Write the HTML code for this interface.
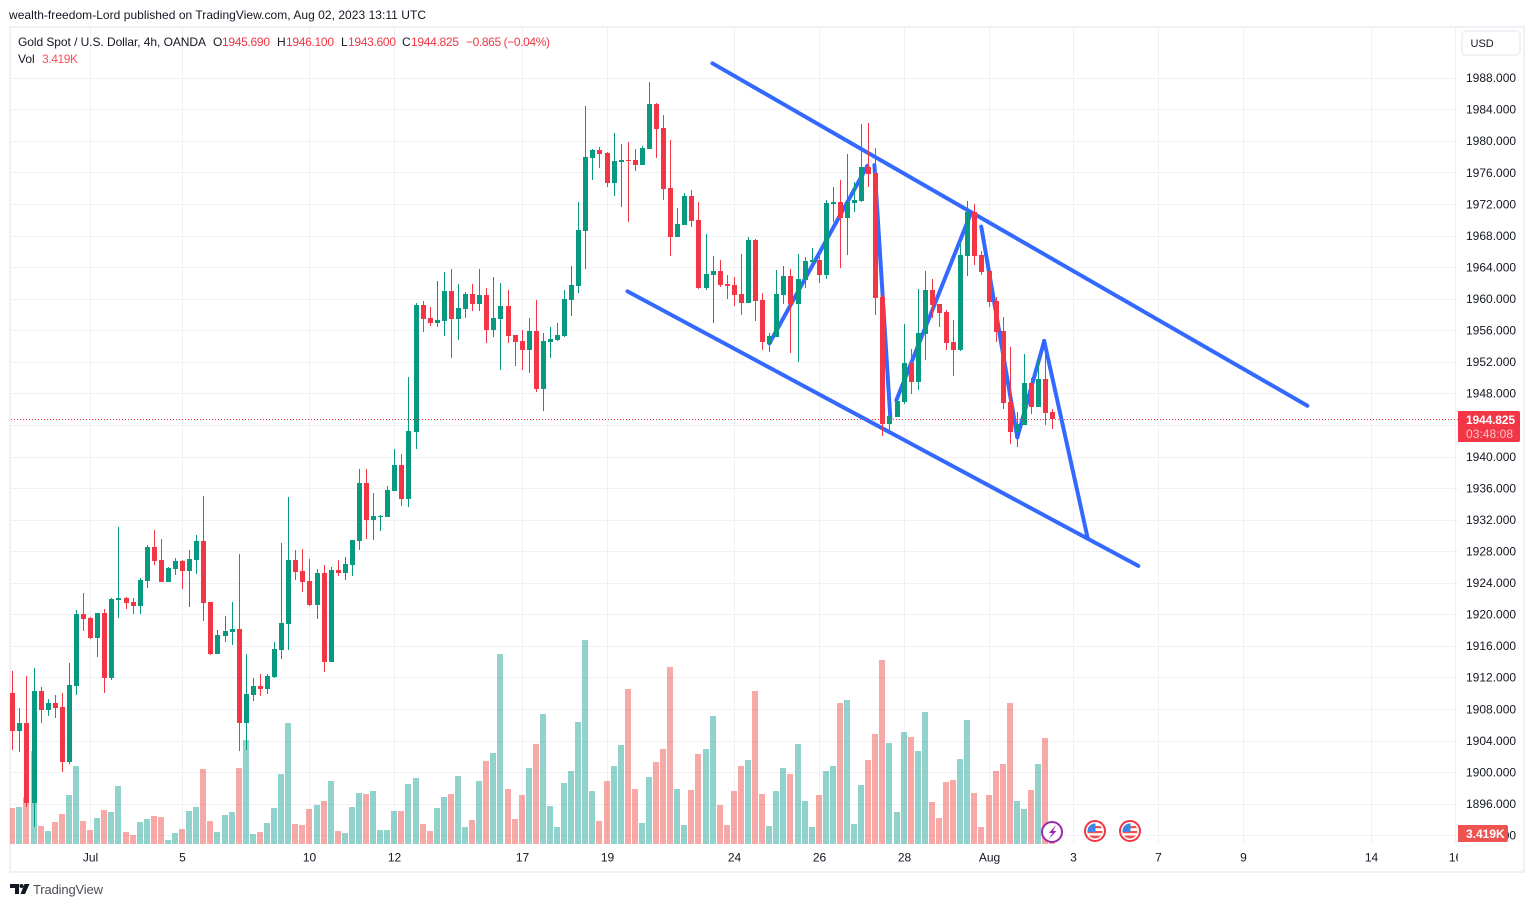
<!DOCTYPE html>
<html lang="en">
<head>
<meta charset="utf-8">
<title>Gold Spot / U.S. Dollar 4h chart</title>
<style>
html,body{margin:0;padding:0;background:#fff;width:1534px;height:907px;overflow:hidden}
svg{display:block}
text{font-family:"Liberation Sans",sans-serif;font-size:12px;fill:#131722}
</style>
</head>
<body>
<svg id="chart" xmlns="http://www.w3.org/2000/svg" width="1534" height="907" viewBox="0 0 1534 907">
  <defs>
    <clipPath id="pane-clip"><rect x="10" y="28" width="1448" height="816"/></clipPath>
    <clipPath id="time-clip"><rect x="10" y="845" width="1448" height="26"/></clipPath>
    <clipPath id="icon-clip-a"><circle cx="1095" cy="831" r="7.5"/></clipPath>
    <clipPath id="icon-clip-b"><circle cx="1130" cy="831" r="7.5"/></clipPath>
  </defs>
  <text x="9" y="19" textLength="417" lengthAdjust="spacing">wealth-freedom-Lord published on TradingView.com, Aug 02, 2023 13:11 UTC</text>
  <rect x="10" y="27" width="1514" height="845" fill="#fff" stroke="#f0f1f5" stroke-width="2"/>
  <g id="grid"></g>
  <g id="volumes" clip-path="url(#pane-clip)"></g>
  <g id="drawings" clip-path="url(#pane-clip)"></g>
  <g id="candles" clip-path="url(#pane-clip)"></g>
  <g id="price-line"></g>

  <g>
    <text x="18" y="46" textLength="188" lengthAdjust="spacing">Gold Spot / U.S. Dollar, 4h, OANDA</text>
    <text x="213" y="46">O</text>
    <text x="222" y="46" textLength="48" lengthAdjust="spacing" style="fill:#f23645">1945.690</text>
    <text x="277" y="46">H</text>
    <text x="286" y="46" textLength="48" lengthAdjust="spacing" style="fill:#f23645">1946.100</text>
    <text x="341" y="46">L</text>
    <text x="348" y="46" textLength="48" lengthAdjust="spacing" style="fill:#f23645">1943.600</text>
    <text x="402" y="46">C</text>
    <text x="411" y="46" textLength="48" lengthAdjust="spacing" style="fill:#f23645">1944.825</text>
    <text x="466" y="46" textLength="84" lengthAdjust="spacing" style="fill:#f23645">−0.865 (−0.04%)</text>
    <text x="18" y="63">Vol</text>
    <text x="42" y="63" textLength="36" lengthAdjust="spacing" style="fill:#f7525f">3.419K</text>
  </g>

  <g id="price-axis"></g>
  <g id="time-axis" clip-path="url(#time-clip)"></g>

  <g>
    <rect x="1462" y="31" width="58" height="24" rx="4" fill="#fff" stroke="#f0f1f5" stroke-width="2"/>
    <text x="1470.500" y="47" style="font-size:11px">USD</text>
  </g>

  <g>
    <path d="M1458 411h60a2 2 0 0 1 2 2v27a2 2 0 0 1-2 2h-60z" fill="#f23645"/>
    <text x="1466" y="424" textLength="49" lengthAdjust="spacing" style="fill:#fff;font-weight:700">1944.825</text>
    <text x="1466" y="438" textLength="47" lengthAdjust="spacing" style="fill:#fbc3c8">03:48:08</text>
  </g>
  <g>
    <path d="M1458 825h48a2 2 0 0 1 2 2v13a2 2 0 0 1-2 2h-48z" fill="#ef5350"/>
    <text x="1466" y="838" style="fill:#fff;font-weight:700">3.419K</text>
  </g>

  <g>
    <circle cx="1052" cy="832" r="10" fill="#fff" stroke="#9c27b0" stroke-width="2"/>
    <path d="M1056 825l-7 8h3.500l-3.500 6 7.500-8h-3.500z" fill="#9c27b0"/>
  </g>
  <g>
    <circle cx="1095" cy="831" r="10" fill="#fff" stroke="#f23645" stroke-width="2"/>
    <g clip-path="url(#icon-clip-a)">
      <rect x="1087" y="823" width="16" height="16" fill="#fff"/>
      <rect x="1087" y="826" width="16" height="2.200" fill="#ef5350"/>
      <rect x="1087" y="831" width="16" height="2.200" fill="#ef5350"/>
      <rect x="1087" y="835.500" width="16" height="4" fill="#ef5350"/>
      <rect x="1087" y="823" width="8.500" height="9" fill="#3d85e6"/>
    </g>
  </g>
  <g>
    <circle cx="1130" cy="831" r="10" fill="#fff" stroke="#f23645" stroke-width="2"/>
    <g clip-path="url(#icon-clip-b)">
      <rect x="1122" y="823" width="16" height="16" fill="#fff"/>
      <rect x="1122" y="826" width="16" height="2.200" fill="#ef5350"/>
      <rect x="1122" y="831" width="16" height="2.200" fill="#ef5350"/>
      <rect x="1122" y="835.500" width="16" height="4" fill="#ef5350"/>
      <rect x="1122" y="823" width="8.500" height="9" fill="#3d85e6"/>
    </g>
  </g>

  <g>
    <path d="M10 884h9v10h-4v-6h-5z" fill="#131722"/>
    <circle cx="21.500" cy="886" r="2" fill="#131722"/>
    <path d="M24.500 884h5l-4.500 10h-4.500z" fill="#131722"/>
    <text x="33" y="894" textLength="70" lengthAdjust="spacing" style="font-size:13px;fill:#4a4d57">TradingView</text>
  </g>
</svg>
<script>
const priceTicks = [1988,1984,1980,1976,1972,1968,1964,1960,1956,1952,1948,1944,1940,1936,1932,1928,1924,1920,1916,1912,1908,1904,1900,1896,1892];
const priceTickLabels = ["1988.000","1984.000","1980.000","1976.000","1972.000","1968.000","1964.000","1960.000","1956.000","1952.000","1948.000",null,"1940.000","1936.000","1932.000","1928.000","1924.000","1920.000","1916.000","1912.000","1908.000","1904.000","1900.000","1896.000","1892.000"];
const timeTickBars = [11,24,42,54,72,84,102,114,126,138,150,162,174,192,204];
const timeTickLabels = ["Jul","5","10","12","17","19","24","26","28","Aug","3","7","9","14","16"];

const opens = [1910.1,1905.3,1906.3,1896.2,1910.3,1907.9,1908.8,1908.3,1901.4,1911.0,
1920.1,1919.6,1917.1,1920.2,1912.0,1921.9,1922.1,1921.6,1921.1,1924.3,
1928.6,1926.9,1924.2,1925.8,1926.8,1925.5,1926.9,1929.4,1921.6,1915.0,
1917.3,1917.8,1918.2,1906.3,1909.8,1911.0,1910.6,1912.1,1915.6,1918.8,
1926.9,1925.5,1924.3,1921.2,1925.3,1914.0,1925.7,1925.3,1926.3,1929.4,
1936.7,1932.0,1932.4,1932.4,1935.7,1939.0,1934.7,1943.2,1959.3,1957.6,
1957.0,1957.2,1961.0,1957.5,1958.8,1960.7,1959.4,1960.5,1956.1,1957.5,
1959.1,1955.5,1954.7,1953.6,1956.0,1948.6,1954.6,1954.8,1955.3,1959.9,
1961.7,1968.6,1977.9,1978.9,1978.5,1974.7,1977.4,1977.6,1977.6,1977.0,
1979.0,1984.7,1981.7,1974.1,1967.9,1969.4,1973.1,1970.0,1961.4,1963.1,
1963.6,1961.9,1961.8,1960.7,1959.5,1967.5,1959.9,1954.3,1955.2,1960.5,
1962.9,1959.4,1962.4,1964.7,1965.0,1963.1,1972.1,1972.3,1970.3,1972.2,
1972.4,1976.8,1976.0,1960.3,1944.2,1945.1,1947.0,1951.9,1949.5,1955.6,
1961.2,1959.4,1958.4,1954.6,1953.6,1965.5,1971.1,1965.6,1963.6,1959.8,
1956.0,1947.0,1943.2,1944.1,1949.4,1946.3,1949.9,1945.69];

const highs = [1912.9,1908.2,1912.3,1913.3,1910.9,1909.3,1909.8,1910.1,1913.9,1920.6,
1922.8,1919.7,1920.2,1920.7,1922.1,1931.1,1922.3,1922.1,1924.7,1928.9,
1930.8,1929.6,1926.1,1927.2,1926.9,1928.2,1930.1,1935.1,1921.6,1918.1,
1919.9,1921.6,1927.7,1915.0,1912.0,1912.5,1912.5,1916.6,1929.1,1934.9,
1928.2,1928.3,1927.1,1925.8,1926.3,1926.1,1926.9,1927.3,1929.5,1938.5,
1938.5,1935.4,1932.7,1936.3,1941.0,1940.4,1950.1,1959.5,1959.8,1959.0,
1962.3,1963.4,1963.8,1961.9,1960.9,1961.9,1963.8,1961.4,1962.8,1962.0,
1961.2,1955.5,1956.1,1957.6,1959.9,1955.7,1956.5,1957.0,1961.2,1964.2,
1972.3,1984.5,1979.0,1979.3,1978.7,1981.1,1979.7,1979.9,1979.0,1979.4,
1987.5,1984.9,1983.3,1980.2,1971.6,1973.5,1973.8,1972.3,1968.3,1965.5,
1965.0,1963.1,1962.8,1965.7,1967.9,1967.6,1960.8,1955.7,1963.7,1964.2,
1963.8,1965.7,1965.4,1966.5,1965.6,1972.6,1974.2,1975.1,1978.4,1974.9,
1982.2,1982.3,1979.2,1960.5,1949.8,1947.1,1956.9,1953.7,1961.3,1963.6,
1962.6,1959.4,1958.6,1957.4,1967.1,1972.4,1972.1,1966.1,1963.6,1960.3,
1957.7,1953.9,1945.7,1953.1,1950.0,1952.4,1954.8,1946.1];

const lows = [1902.9,1902.6,1895.6,1893.1,1906.3,1907.2,1906.9,1900.1,1901.1,1909.8,
1918.0,1916.9,1914.7,1910.1,1911.7,1919.6,1920.7,1920.1,1920.1,1923.4,
1926.3,1924.2,1924.2,1925.0,1923.3,1921.0,1925.2,1919.2,1914.9,1915.0,
1916.6,1916.2,1902.8,1902.9,1909.1,1909.7,1910.0,1912.0,1914.4,1915.6,
1924.4,1922.9,1921.1,1919.5,1912.8,1914.0,1924.9,1924.4,1924.9,1928.2,
1929.6,1929.5,1930.6,1932.4,1935.7,1933.8,1933.7,1941.0,1955.8,1956.6,
1956.5,1955.3,1952.6,1954.8,1957.6,1958.5,1958.5,1954.4,1955.2,1951.0,
1954.4,1951.5,1951.0,1950.6,1948.2,1945.8,1952.6,1954.7,1955.2,1957.9,
1960.8,1963.8,1975.1,1976.6,1974.2,1973.1,1971.7,1969.8,1976.2,1977.0,
1979.0,1977.9,1972.6,1965.5,1967.9,1969.4,1969.2,1961.3,1961.2,1957.0,
1961.5,1960.0,1959.1,1958.0,1959.5,1957.2,1953.6,1953.3,1955.2,1959.4,
1953.2,1952.0,1961.4,1964.7,1962.1,1962.6,1969.8,1964.0,1965.6,1971.1,
1972.3,1974.2,1958.0,1942.7,1943.4,1945.1,1946.7,1948.0,1948.5,1952.3,
1957.6,1956.5,1953.6,1950.3,1953.4,1962.9,1964.3,1963.1,1959.0,1954.6,
1946.1,1941.7,1941.3,1944.1,1945.4,1946.3,1944.0,1943.6];

const closes = [1905.3,1906.3,1896.2,1910.3,1907.9,1908.8,1908.2,1901.4,1911.1,1920.1,
1919.5,1917.1,1920.2,1912.0,1922.0,1922.1,1921.5,1921.1,1924.4,1928.6,
1926.8,1924.2,1925.9,1926.8,1925.5,1927.1,1929.4,1921.5,1915.0,1917.4,
1918.0,1918.2,1906.3,1910.0,1911.0,1910.6,1912.3,1915.7,1919.0,1926.9,
1925.4,1924.2,1921.2,1925.3,1914.0,1925.7,1925.3,1926.4,1929.5,1936.7,
1932.0,1932.5,1932.5,1935.8,1939.0,1934.7,1943.3,1959.3,1957.5,1957.0,
1957.4,1961.0,1957.5,1958.9,1960.7,1959.4,1960.5,1956.1,1957.6,1959.1,
1955.3,1954.6,1953.6,1956.0,1948.6,1954.7,1955.0,1955.5,1960.0,1961.8,
1968.8,1978.0,1978.9,1978.4,1974.7,1977.5,1977.6,1977.5,1977.0,1979.2,
1984.7,1981.6,1974.0,1967.9,1969.5,1973.1,1969.9,1961.4,1963.2,1963.6,
1961.8,1961.7,1960.5,1959.5,1967.5,1959.8,1954.6,1955.3,1960.7,1962.9,
1959.4,1962.6,1964.8,1965.0,1963.1,1972.2,1972.3,1970.3,1972.3,1972.6,
1976.8,1975.9,1960.2,1944.2,1945.2,1947.1,1951.9,1949.5,1955.7,1961.2,
1959.3,1958.3,1954.4,1953.6,1965.6,1971.1,1965.5,1963.4,1959.7,1955.8,
1946.8,1943.2,1944.2,1949.4,1946.3,1949.9,1945.6,1944.825];

const volumes = [12.3,12.7,16.1,31.8,6.2,4.4,7.5,10.3,16.8,26.7,
7.9,4.8,8.9,11.6,10.9,19.8,4.1,3.1,7.5,8.6,
9.6,9.2,1.4,3.8,5.1,11.3,12.7,25.7,7.9,4.1,
9.9,10.9,26.0,35.6,3.4,4.1,7.2,12.3,23.9,41.4,
6.8,6.5,12.0,13.3,14.7,21.5,4.4,3.8,12.7,17.4,
17.1,18.1,4.8,4.8,11.3,11.3,20.5,22.6,6.8,4.4,
12.3,16.1,17.1,23.3,5.8,8.2,21.5,28.4,31.1,65.0,
18.8,8.6,16.8,26.0,34.2,44.5,13.0,5.8,20.9,25.0,
41.7,69.8,18.1,7.9,21.5,26.7,33.9,53.0,18.8,7.2,
22.9,28.0,32.5,60.5,18.8,6.5,18.5,30.8,32.5,43.8,
13.3,6.5,18.1,26.7,28.7,52.3,17.1,6.2,18.1,26.0,
23.9,34.2,14.7,5.8,16.8,25.0,26.7,48.2,49.2,6.8,
20.2,28.7,37.6,62.9,34.5,10.9,38.3,36.6,31.8,45.1,
14.4,8.9,21.2,21.9,29.1,42.4,17.4,5.8,16.8,25.0,
27.4,48.2,14.7,12.0,18.5,27.4,36.3,3.419];

const lastPrice = 1944.825;

/* Hand-drawn annotations, as [bar index, price] anchor pairs */
const upperChannel = [[98.9,1989.9],[183.0,1946.5]];
const lowerChannel = [[86.9,1961.0],[159.1,1926.2]];
const zigzagRise1 = [[106.95,1954.4],[120.8,1976.9]];
const zigzagDrop1 = [[121.8,1977.0],[124.05,1944.9]];
const zigzagRise2 = [[124.9,1947.2],[135.4,1970.8]];
const zigzagDrop2 = [[136.9,1969.2],[142.0,1942.5]];
const zigzagRise3 = [[142.0,1942.5],[145.8,1954.7]];
const zigzagDrop3 = [[145.8,1954.7],[151.9,1929.9]];

const UP_COLOR = '#089981';
const DOWN_COLOR = '#f23645';
const NS = 'http://www.w3.org/2000/svg';

function xScale(bar){ return 12.82 + 7.074 * bar; }
function yScale(price){ return 78.3 + (1988 - price) * 7.89; }
function volScale(v){ return 844 - v * 2.925; }

function make(tag, attrs, parent){
  const el = document.createElementNS(NS, tag);
  for (const k in attrs) el.setAttribute(k, attrs[k]);
  parent.appendChild(el);
  return el;
}

/* grid */
const gridGroup = document.getElementById('grid');
priceTicks.forEach(function(p){
  const y = Math.floor(yScale(p)) + 0.5;
  const line = make('line', {x1:11, x2:1458, y1:y, y2:y, stroke:'#f0f1f5', 'stroke-width':1}, gridGroup);
  
  
});
timeTickBars.forEach(function(b){
  const x = Math.floor(xScale(b)) + 0.5;
  const line = make('line', {x1:x, x2:x, y1:28, y2:843, stroke:'#f0f1f5', 'stroke-width':1}, gridGroup);
  
  
});

/* price axis */
const priceAxis = document.getElementById('price-axis');
priceTicks.forEach(function(p, i){
  if (priceTickLabels[i] === null) return;
  const t = make('text', {x:1466, y:yScale(p) + 3.8}, priceAxis);
  t.textContent = priceTickLabels[i];
  
  
});

/* time axis */
const timeAxis = document.getElementById('time-axis');
timeTickBars.forEach(function(b, i){
  const t = make('text', {x:Math.floor(xScale(b)) + 0.5, y:861.5, 'text-anchor':'middle'}, timeAxis);
  t.textContent = timeTickLabels[i];
  
  
});

/* volume */
const volGroup = document.getElementById('volumes');
volumes.forEach(function(v, i){
  const px = Math.floor(xScale(i));
  const top = Math.round(volScale(v));
  const up = closes[i] >= opens[i];
  const bar = make('rect', {x:px - 3, y:top, width:6, height:844 - top, fill: up ? 'rgba(38,166,154,0.5)' : 'rgba(239,83,80,0.5)'}, volGroup);
  
  
});

/* annotations */
const drawGroup = document.getElementById('drawings');
function drawSegment(seg, name){
  const line = make('line', {
    x1:xScale(seg[0][0]), y1:yScale(seg[0][1]),
    x2:xScale(seg[1][0]), y2:yScale(seg[1][1]),
    stroke:'#2962ff', 'stroke-width':4, 'stroke-linecap':'round', opacity:0.95
  }, drawGroup);
  
  
}
drawSegment(upperChannel, 'upper-channel-line');
drawSegment(lowerChannel, 'lower-channel-line');
drawSegment(zigzagRise1, 'zigzag-rise-one');
drawSegment(zigzagDrop1, 'zigzag-drop-one');
drawSegment(zigzagRise2, 'zigzag-rise-two');
drawSegment(zigzagDrop2, 'zigzag-drop-two');
drawSegment(zigzagRise3, 'zigzag-rise-three');
drawSegment(zigzagDrop3, 'zigzag-drop-three');

/* candles */
const candleGroup = document.getElementById('candles');
opens.forEach(function(o, i){
  const c = closes[i];
  const color = c >= o ? UP_COLOR : DOWN_COLOR;
  const px = Math.floor(xScale(i));
  const yHigh = Math.round(yScale(highs[i]));
  const yLow = Math.round(yScale(lows[i]));
  const yTop = Math.round(yScale(Math.max(o, c)));
  const yBot = Math.round(yScale(Math.min(o, c)));
  const g = make('g', {}, candleGroup);
  
  
  make('rect', {x:px, y:yHigh, width:1, height:Math.max(1, yLow - yHigh), fill:color}, g);
  make('rect', {x:px - 2, y:yTop, width:5, height:Math.max(1, yBot - yTop), fill:color}, g);
});

/* last price line */
const priceLineGroup = document.getElementById('price-line');
const lastY = Math.round(yScale(lastPrice)) + 0.5;
make('line', {x1:11, x2:1458, y1:lastY, y2:lastY, stroke:'#f23645', 'stroke-width':1, 'stroke-dasharray':'1 2'}, priceLineGroup);
</script>
</body>
</html>
